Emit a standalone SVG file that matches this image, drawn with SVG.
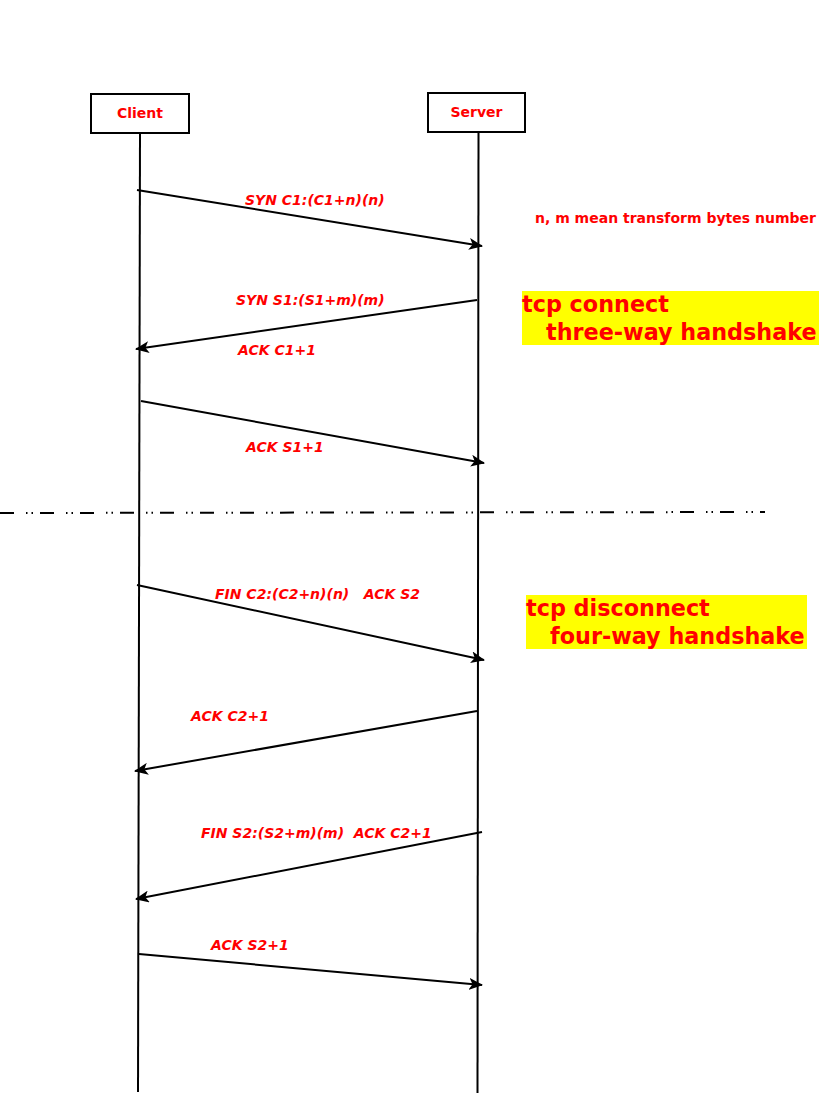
<svg xmlns="http://www.w3.org/2000/svg" width="820" height="1095" viewBox="0 0 820 1095">
<style>
.box{fill:#fff;stroke:#000;stroke-width:2}
.life{stroke:#000;stroke-width:2;fill:none}
.msg{stroke:#000;stroke-width:2;fill:none}
.lbl{font-family:"DejaVu Sans",sans-serif;font-weight:bold;font-style:italic;font-size:14px;fill:#f00}
.nm{font-family:"DejaVu Sans",sans-serif;font-weight:bold;font-size:14px;fill:#f00}
.big{font-family:"DejaVu Sans",sans-serif;font-weight:bold;font-size:22.3px;fill:#f00}
.hl{fill:#ff0}
</style>
<defs>
<marker id="ah" markerUnits="userSpaceOnUse" markerWidth="14" markerHeight="12" viewBox="0 0 14 12" refX="13" refY="6" orient="auto">
<path d="M0,0 L14,6 L0,12 L3.5,6 Z" fill="#000"/>
</marker>
</defs>
<g id="client">
<rect class="box" x="91" y="94" width="98" height="39"/>
<text class="nm" x="140" y="118" text-anchor="middle">Client</text>
</g>
<g id="server">
<rect class="box" x="428" y="93" width="97" height="39"/>
<text class="nm" x="476.5" y="117" text-anchor="middle">Server</text>
</g>
<g id="note">
<text class="nm" x="535" y="223">n, m mean transform bytes number</text>
</g>
<g id="connect-note">
<rect class="hl" x="522" y="291" width="297" height="54"/>
<text class="big" x="522" y="312">tcp connect</text>
<text class="big" x="546" y="340">three-way handshake</text>
</g>
<g id="disconnect-note">
<rect class="hl" x="526" y="595" width="281" height="54"/>
<text class="big" x="526" y="616">tcp disconnect</text>
<text class="big" x="550" y="644">four-way handshake</text>
</g>
<g id="connectors">
<line class="life" x1="140" y1="133" x2="138" y2="1092"/>
<line class="life" x1="478.5" y1="132" x2="477.5" y2="1093"/>
<line x1="0" y1="513" x2="765" y2="512" stroke="#000" stroke-width="2" stroke-dasharray="14 12 1.5 4 1.5 7"/>
<line class="msg" x1="137" y1="190" x2="482" y2="246" marker-end="url(#ah)"/>
<line class="msg" x1="477" y1="300" x2="136" y2="349" marker-end="url(#ah)"/>
<line class="msg" x1="141" y1="401" x2="484" y2="463" marker-end="url(#ah)"/>
<line class="msg" x1="137" y1="585" x2="484" y2="660" marker-end="url(#ah)"/>
<line class="msg" x1="477" y1="711" x2="135" y2="771" marker-end="url(#ah)"/>
<line class="msg" x1="482" y1="832" x2="136" y2="899" marker-end="url(#ah)"/>
<line class="msg" x1="139" y1="954" x2="482" y2="985" marker-end="url(#ah)"/>
</g>
<g id="labels">
<text class="lbl" x="245" y="205">SYN C1:(C1+n)(n)</text>
<text class="lbl" x="236" y="305">SYN S1:(S1+m)(m)</text>
<text class="lbl" x="238" y="355">ACK C1+1</text>
<text class="lbl" x="246" y="452">ACK S1+1</text>
<text class="lbl" x="215" y="599" xml:space="preserve">FIN C2:(C2+n)(n)   ACK S2</text>
<text class="lbl" x="191" y="721">ACK C2+1</text>
<text class="lbl" x="201" y="838" xml:space="preserve">FIN S2:(S2+m)(m)  ACK C2+1</text>
<text class="lbl" x="211" y="950">ACK S2+1</text>
</g>
</svg>
